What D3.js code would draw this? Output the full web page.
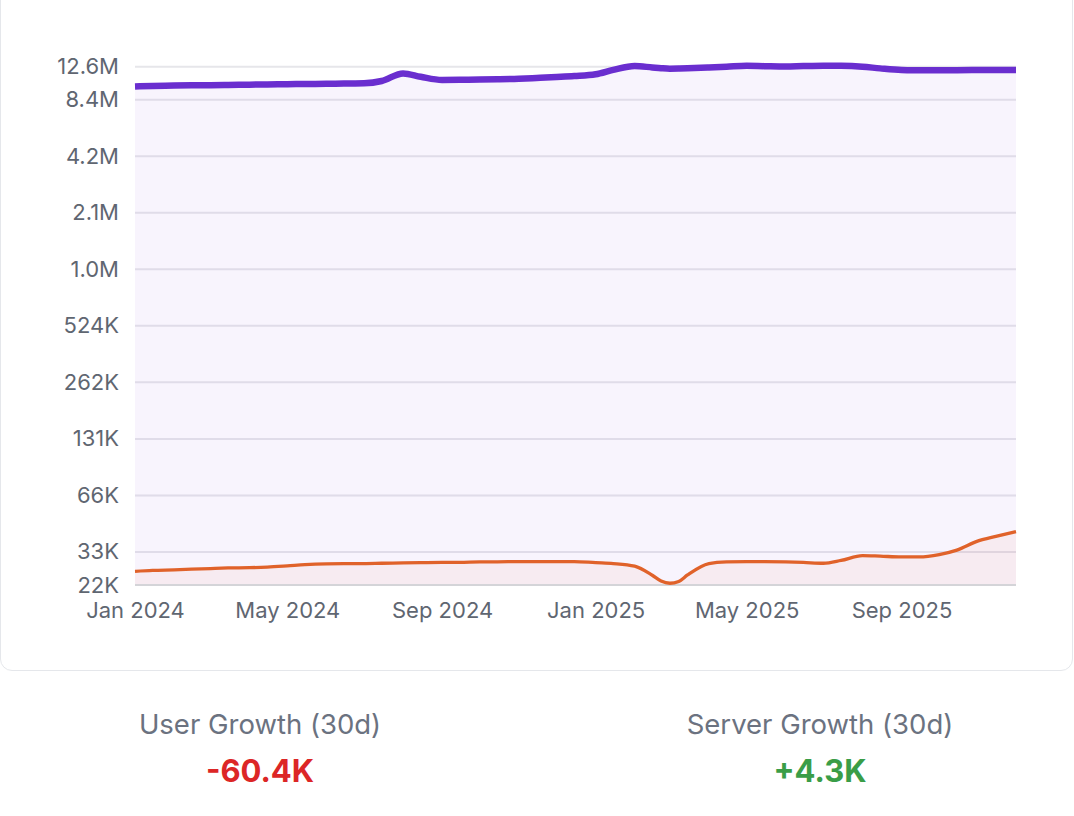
<!DOCTYPE html>
<html>
<head>
<meta charset="utf-8">
<script src="https://d3js.org/d3.v7.min.js"></script>
<style>
  body{
    margin:0;
    background-color:#ffffff;
    width:1074px;
    height:816px;
    overflow:hidden;
    position:relative;
    font-family:Inter, "Liberation Sans", Arial, sans-serif;
  }
  #card{
    position:absolute;
    left:0px;
    top:-30px;
    width:1073px;
    height:701px;
    box-sizing:border-box;
    border:1px solid #e5e7eb;
    border-radius:12px;
    background:#ffffff;
  }
  svg{
    position:absolute;
    left:0;
    top:0;
  }
</style>
</head>
<body>
<div id="card"></div>
<svg id="chart" width="1074" height="816"></svg>

<script>
  // roughly half-monthly samples (extra ones round the March 2025 dip)
  var dates = [
    "2024-01-01","2024-01-15","2024-02-01","2024-02-15","2024-03-01","2024-03-15",
    "2024-04-01","2024-04-15","2024-05-01","2024-05-15","2024-06-01","2024-06-15",
    "2024-07-01","2024-07-15","2024-08-01","2024-08-15","2024-09-01","2024-09-15",
    "2024-10-01","2024-10-15","2024-11-01","2024-11-15","2024-12-01","2024-12-15",
    "2025-01-01","2025-01-15","2025-02-01","2025-02-15","2025-02-22","2025-03-01",
    "2025-03-08","2025-03-15",
    "2025-04-01","2025-04-15","2025-05-01","2025-05-15","2025-06-01","2025-06-15",
    "2025-07-01","2025-07-15","2025-08-01","2025-08-15","2025-09-01","2025-09-15",
    "2025-10-01","2025-10-15","2025-11-01","2025-11-15","2025-12-01"
  ];
  var users = [
    9870000, 9930000, 9970000, 10010000, 10030000, 10050000,
    10090000, 10110000, 10140000, 10170000, 10200000, 10230000,
    10260000, 10550000, 11580000, 11110000, 10690000, 10710000,
    10740000, 10780000, 10850000, 10950000, 11080000, 11210000,
    11460000, 12090000, 12680000, 12460000, 12350000, 12280000,
    12300000, 12340000,
    12460000, 12570000, 12710000, 12660000, 12610000, 12680000,
    12730000, 12710000, 12570000, 12320000, 12090000, 12050000,
    12030000, 12050000, 12070000, 12090000, 12090000
  ];
  var servers = [
    25800, 26100, 26300, 26500, 26700, 26900,
    27000, 27200, 27600, 28000, 28300, 28400,
    28400, 28500, 28600, 28700, 28800, 28800,
    29000, 29000, 29100, 29100, 29100, 29100,
    28700, 28400, 27500, 24600, 22900, 22300,
    22800, 24700,
    28400, 29000, 29100, 29100, 29000, 28800,
    28500, 29500, 31300, 31100, 30800, 30800,
    31700, 33500, 37500, 39600, 42000
  ];
  var yTicks = [21830, 32745, 65490, 130980, 261960, 523920, 1047840, 2095680, 4191360, 8382720, 12574080];
  var yTickLabels = ["22K","33K","66K","131K","262K","524K","1.0M","2.1M","4.2M","8.4M","12.6M"];
  var xTicks = ["2024-01-01","2024-05-01","2024-09-01","2025-01-01","2025-05-01","2025-09-01"];
  var xStart = "2024-01-01", xEnd = "2025-12-01";

  var stats = [
    {label:"User Growth (30d)", value:"-60.4K", color:"#dc2626"},
    {label:"Server Growth (30d)", value:"+4.3K", color:"#3a9d47"}
  ];

  var parse = d3.timeParse("%Y-%m-%d");
  var rows = dates.map(function(d,i){
    return {date:parse(d), users:users[i], servers:servers[i]};
  });

  var plotLeft = 135, plotRight = 1016, plotTop = 66.7, plotBottom = 585;

  var x = d3.scaleTime()
      .domain([parse(xStart), parse(xEnd)])
      .range([plotLeft, plotRight]);
  var y = d3.scaleLog()
      .domain([yTicks[0], yTicks[yTicks.length-1]])
      .range([plotBottom, plotTop]);

  var svg = d3.select("#chart");

  // grid
  svg.append("g").selectAll("line")
    .data(yTicks.slice(1))
    .enter().append("line")
    .attr("x1", plotLeft).attr("x2", plotRight)
    .attr("y1", function(d){ return y(d); })
    .attr("y2", function(d){ return y(d); })
    .attr("stroke", "#e6e6ea")
    .attr("stroke-width", 2);

  var area = function(key){
    return d3.area()
      .x(function(d){ return x(d.date); })
      .y0(plotBottom)
      .y1(function(d){ return y(d[key]); })
      .curve(d3.curveMonotoneX);
  };
  var line = function(key){
    return d3.line()
      .x(function(d){ return x(d.date); })
      .y(function(d){ return y(d[key]); })
      .curve(d3.curveMonotoneX);
  };

  svg.append("path").datum(rows)
    .attr("d", area("users"))
    .attr("fill", "rgba(109,40,217,0.052)");
  svg.append("path").datum(rows)
    .attr("d", area("servers"))
    .attr("fill", "rgba(234,88,12,0.05)");

  // bottom axis line
  svg.append("line")
    .attr("x1", plotLeft).attr("x2", plotRight)
    .attr("y1", plotBottom).attr("y2", plotBottom)
    .attr("stroke", "#d4d4d8")
    .attr("stroke-width", 2);

  svg.append("path").datum(rows)
    .attr("d", line("servers"))
    .attr("fill", "none")
    .attr("stroke", "#e0622a")
    .attr("stroke-width", 3.3);
  svg.append("path").datum(rows)
    .attr("d", line("users"))
    .attr("fill", "none")
    .attr("stroke", "#6a2ecf")
    .attr("stroke-width", 6.5);

  // axes
  var yAxis = d3.axisLeft(y)
    .tickValues(yTicks)
    .tickFormat(function(d,i){ return yTickLabels[i]; })
    .tickSize(0)
    .tickPadding(16);
  var gy = svg.append("g")
    .attr("transform", "translate(" + plotLeft + ",0)")
    .call(yAxis);

  var xAxis = d3.axisBottom(x)
    .tickValues(xTicks.map(parse))
    .tickFormat(d3.timeFormat("%b %Y"))
    .tickSize(0)
    .tickPadding(17);
  var gx = svg.append("g")
    .attr("transform", "translate(0," + plotBottom + ")")
    .call(xAxis);

  [gx, gy].forEach(function(g){
    g.select(".domain").remove();
    g.selectAll("text")
      .attr("fill", "#5f6671")
      .style("font-family", "Inter, 'Liberation Sans', Arial, sans-serif")
      .style("font-size", "22px");
  });

  // growth stats
  var sx = d3.scalePoint().domain(stats.map(function(d){ return d.label; })).range([260, 820]);
  var st = svg.append("g").selectAll("g")
    .data(stats).enter().append("g")
    .attr("transform", function(d){ return "translate(" + sx(d.label) + ",0)"; });
  st.append("text")
    .attr("y", 734)
    .attr("text-anchor", "middle")
    .attr("fill", "#6b7280")
    .style("font-size", "27.5px")
    .text(function(d){ return d.label; });
  st.append("text")
    .attr("y", 782)
    .attr("text-anchor", "middle")
    .attr("fill", function(d){ return d.color; })
    .style("font-size", "31px")
    .style("font-weight", "700")
    .text(function(d){ return d.value; });
</script>
</body>
</html>
